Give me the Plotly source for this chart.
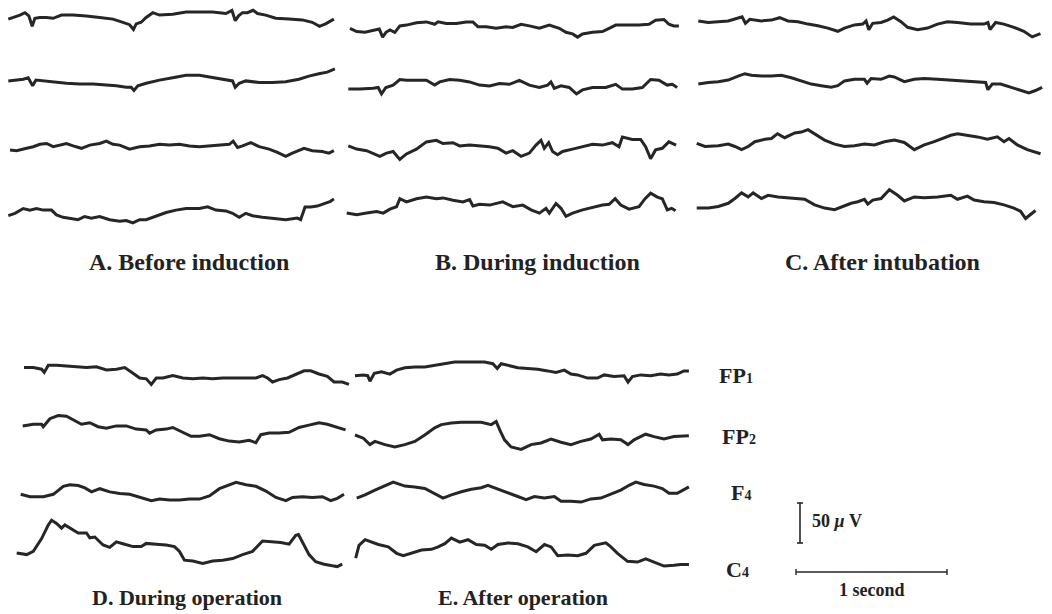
import plotly.graph_objects as go

# ---------------- data (time in ms from trace start, amplitude in microvolts) ----------------
channels = ["FP<span style='font-size:14px'>1</span>", "FP<span style='font-size:14px'>2</span>",
            "F<span style='font-size:14px'>4</span>", "C<span style='font-size:14px'>4</span>"]
panel_titles = ["A. Before induction", "B. During induction", "C. After intubation",
                "D. During operation", "E. After operation"]
scale_uv = 50
scale_s = 1

A_t = [
    [0,33,77,110,136,158,176,209,253,297,352,429,517,605,693,759,803,829,847,880,913,957,1001,1089,1177,1265,1353,1441,1481,1503,1525,1551,1584,1621,1650,1705,1771,1859,1947,2013,2061,2101,2134,2156],
    [0,44,99,132,161,183,231,297,385,473,561,649,715,781,814,832,858,913,1001,1089,1177,1265,1353,1441,1485,1503,1529,1573,1661,1749,1837,1925,1958,1991,2057,2112,2163],
    [0,44,110,154,198,242,286,330,374,418,473,528,594,638,682,726,792,858,924,990,1056,1122,1188,1254,1320,1386,1452,1478,1507,1540,1595,1650,1716,1771,1826,1870,1914,1947,2002,2068,2112,2145],
    [0,44,99,143,187,231,286,319,363,407,462,506,550,605,671,737,781,825,869,913,979,1045,1111,1177,1265,1320,1375,1441,1485,1529,1573,1617,1683,1749,1837,1914,1936,1965,2002,2046,2090,2134,2156],
]
A_v = [
    [-1,1,4,7,3,-10,0,1,1,0,4,4,3,1,-1,-5,-8,-14,-7,-5,1,7,4,5,8,8,8,6,10,-3,3,7,7,10,6,4,0,-1,-2,-5,-10,-7,-3,-1],
    [1,2,3,5,-5,2,1,0,-2,-3,-3,-4,-5,-7,-7,-11,-5,-2,2,5,8,8,5,2,1,-7,-2,1,-1,-1,0,3,5,7,10,12,16],
    [-4,-5,-2,0,3,4,0,2,4,1,-2,2,4,7,3,2,-3,0,1,3,2,3,1,0,1,2,3,7,-1,1,5,0,-3,-7,-12,-8,-5,-2,-5,-6,-8,-5],
    [-3,0,6,4,6,4,4,-2,-5,-6,-8,-4,-6,-4,-8,-10,-9,-12,-8,-8,-3,1,4,6,6,8,4,3,0,-5,0,-3,-5,-6,-8,-6,-8,8,8,9,12,15,18],
]

B_t = [
    [0,44,99,154,194,216,238,264,297,330,374,440,506,561,583,638,704,770,814,847,902,968,1034,1078,1133,1188,1254,1320,1386,1430,1474,1507,1540,1606,1672,1716,1760,1826,1914,1980,2024,2079,2112,2145,2178],
    [0,77,165,198,220,249,297,341,385,451,517,572,605,671,737,803,869,935,1001,1067,1133,1199,1265,1320,1342,1364,1408,1463,1511,1551,1617,1705,1771,1815,1881,1947,2002,2057,2112,2145,2178],
    [0,55,121,165,209,253,297,341,385,451,517,583,627,693,737,803,869,935,990,1045,1089,1144,1199,1243,1276,1298,1327,1353,1386,1419,1485,1551,1617,1683,1749,1793,1815,1881,1936,1969,2002,2035,2079,2123,2171],
    [0,66,132,198,242,286,330,352,396,462,528,594,638,704,770,814,836,880,946,1034,1100,1166,1221,1276,1320,1342,1386,1419,1452,1496,1562,1628,1694,1738,1778,1815,1870,1936,1976,2013,2057,2090,2123,2152,2178],
]
B_v = [
    [0,-4,-5,-3,-1,-11,-5,-2,-5,3,4,7,8,5,8,6,6,8,8,2,2,0,2,1,5,3,0,4,0,-5,-7,-11,-7,-5,-4,0,4,4,4,5,10,11,5,3,3],
    [-1,-1,0,1,-7,1,4,11,10,10,10,4,8,11,10,8,4,3,6,5,10,4,1,4,8,0,3,1,-7,-2,1,1,5,-1,-1,1,11,10,4,5,1],
    [1,-3,-5,-9,-12,-8,-6,-16,-9,-3,6,8,4,5,1,2,1,0,-2,-8,-5,-12,-8,2,8,-2,5,-6,-10,-6,-3,0,3,2,5,0,12,9,9,0,-15,-4,-2,6,2],
    [-8,-10,-8,-6,-8,-3,0,10,6,10,12,10,11,8,6,9,1,3,2,6,0,2,-4,-8,-2,-8,4,-2,-12,-8,-4,-1,2,3,10,2,-3,0,10,17,12,10,-4,-2,-5],
]

C_t = [
    [0,66,132,198,253,290,312,341,418,484,539,594,660,726,792,858,924,968,1034,1089,1111,1129,1155,1210,1254,1294,1342,1386,1452,1518,1584,1650,1716,1804,1892,1918,1932,1969,2024,2090,2156,2211,2266],
    [0,66,132,198,264,308,352,418,484,550,616,682,748,814,880,924,968,1034,1100,1118,1144,1210,1265,1298,1364,1430,1496,1584,1672,1760,1848,1903,1918,1947,2002,2068,2134,2189,2233,2277],
    [0,55,143,209,253,297,341,385,451,495,535,583,649,693,737,792,847,913,979,1045,1111,1177,1243,1309,1375,1441,1507,1573,1639,1683,1727,1793,1859,1925,1991,2035,2068,2123,2189,2277],
    [0,77,143,209,253,297,341,374,429,473,539,605,671,715,781,847,913,968,1023,1067,1111,1133,1166,1221,1276,1331,1375,1441,1507,1595,1683,1727,1793,1837,1903,1969,2035,2101,2145,2178,2222,2244],
]
C_v = [
    [3,1,2,3,6,8,0,5,3,4,7,3,2,-1,-3,-6,-10,-6,-2,-1,3,-8,0,1,4,8,2,-5,-8,-6,-1,2,1,-1,-1,1,-8,1,-1,-5,-10,-17,-13],
    [-3,-1,0,2,7,10,8,7,7,8,5,1,-3,-5,-7,-5,1,3,3,-2,4,3,7,6,0,3,4,3,2,1,0,-1,-10,-3,-3,-7,-11,-14,-11,-7],
    [-2,-6,-5,-3,-6,-10,-6,0,3,4,10,5,11,12,15,8,2,-3,-6,-5,-3,-4,0,2,-1,-10,-4,0,5,8,10,8,6,3,6,0,4,-4,-10,-15],
    [-6,-6,-4,0,6,13,8,13,6,10,8,7,6,5,-2,-6,-8,-4,0,2,5,-1,4,6,17,10,3,8,7,8,10,5,9,4,2,1,-2,-6,-10,-19,-12,-9],
]

D_t = [
    [0,62,117,134,161,216,282,348,414,480,546,612,667,722,766,810,843,876,920,986,1052,1118,1184,1250,1316,1404,1470,1536,1580,1613,1646,1690,1745,1800,1855,1899,1954,2009,2053,2108,2152],
    [0,70,125,136,180,235,290,345,389,444,499,554,620,686,752,818,840,884,950,994,1060,1115,1170,1236,1302,1368,1434,1500,1544,1577,1632,1698,1764,1830,1896,1962,2017,2072,2138],
    [0,62,150,216,282,326,381,425,469,524,590,656,722,788,865,920,986,1052,1118,1184,1250,1316,1382,1426,1492,1558,1624,1690,1756,1800,1866,1932,1998,2053,2097,2141],
    [0,66,110,165,209,231,264,297,319,363,407,462,484,517,572,616,660,715,770,825,858,924,990,1045,1078,1111,1166,1232,1298,1364,1430,1496,1562,1628,1694,1749,1804,1848,1866,1892,1936,1980,2035,2090,2123,2156],
]
D_v = [
    [3,3,1,-3,6,6,5,4,3,4,0,1,3,-4,-10,-11,-18,-10,-10,-7,-10,-11,-10,-11,-10,-10,-10,-10,-7,-10,-15,-12,-10,-5,-1,-1,-5,-8,-15,-15,-18],
    [1,3,3,0,10,14,13,8,3,5,0,-2,1,1,-3,-4,-8,-4,-3,-1,-7,-12,-12,-10,-15,-18,-19,-17,-20,-10,-8,-8,-7,-1,2,5,3,0,-4],
    [0,-3,-3,0,10,12,11,8,3,7,3,1,0,-4,-8,-6,-7,-7,-6,-6,-2,7,12,15,12,10,4,-4,-8,-4,-3,-4,-3,-8,-5,0],
    [-10,-12,-8,8,25,31,27,21,25,20,15,15,9,10,0,-3,4,1,-2,-2,2,1,0,-2,-8,-19,-20,-23,-20,-19,-17,-12,-8,5,4,3,1,12,13,4,-12,-21,-24,-26,-27,-24],
]

E_t = [
    [0,55,84,99,128,176,231,275,330,396,462,528,594,660,726,792,858,913,942,968,1012,1078,1144,1210,1276,1331,1386,1430,1474,1540,1606,1650,1716,1782,1808,1837,1892,1958,2024,2079,2134,2178,2211],
    [0,55,99,132,198,264,330,396,462,528,572,638,704,770,836,902,935,957,990,1034,1100,1166,1232,1298,1364,1430,1496,1562,1617,1639,1694,1760,1808,1848,1925,1980,2046,2112,2211],
    [0,55,121,187,242,319,385,451,517,572,627,693,759,825,869,935,1001,1067,1122,1177,1243,1309,1353,1419,1485,1551,1617,1683,1749,1804,1848,1903,1969,2024,2068,2123,2167,2200],
    [0,22,62,106,150,216,271,315,370,436,502,546,590,634,689,744,799,854,898,942,1008,1074,1140,1195,1250,1294,1338,1404,1470,1525,1580,1657,1690,1734,1800,1866,1921,1976,2042,2108,2152,2207],
]
E_v = [
    [-5,-4,-5,-12,-2,0,-3,2,5,6,6,8,10,12,12,12,12,10,4,10,8,5,4,3,1,-1,2,-3,-4,-8,-8,-4,-6,-5,-13,-6,-4,-5,-3,-4,-3,1,1],
    [0,-4,-12,-8,-12,-15,-12,-8,0,9,13,15,16,16,16,13,17,7,-6,-15,-18,-12,-10,-5,-9,-12,-8,-5,1,-6,-5,-6,-12,-6,1,-2,-5,-2,-1],
    [-8,-4,2,8,12,7,6,4,-2,-8,-4,0,3,5,8,3,-1,-6,-10,-6,-8,-6,-12,-12,-13,-9,-8,-3,2,8,12,9,7,4,-2,-2,3,6],
    [-8,8,15,12,9,6,-2,-5,-2,2,3,6,10,17,12,15,9,8,3,9,11,10,6,0,9,6,-5,-4,-5,-2,8,11,6,-2,-12,-13,-9,-13,-18,-17,-16,-16],
]

# ---------------- layout (page pixels) ----------------
W, H = 1052, 614
PX_PER_S = 151.0      # 1 second bar length
PX_PER_UV = 0.8       # 50 uV bar length = 40 px

def X(px):
    return px / PX_PER_S

def Y(py):
    return -py / PX_PER_UV

panels = [
    (A_t, A_v, [8.3, 8.3, 10.0, 8.3], [18.3, 81.7, 146.7, 213.3]),
    (B_t, B_v, [350.0, 348.3, 348.3, 346.7], [28.3, 88.3, 146.7, 206.7]),
    (C_t, C_v, [698.3, 698.3, 696.7, 696.7], [23.3, 81.7, 141.7, 203.3]),
    (D_t, D_v, [24.0, 22.7, 20.7, 16.7], [370.0, 426.7, 494.3, 545.0]),
    (E_t, E_v, [355.0, 355.0, 356.7, 355.7], [371.7, 435.0, 491.7, 551.7]),
]
title_pos = [(189, 262), (537, 262), (882, 262), (187, 597), (523, 597)]
title_size = [24, 24, 24, 22, 22]
label_pos = [(736, 375), (739, 436), (741, 492), (737, 569)]

INK = "#262626"
fig = go.Figure()

for times, vals, x0s, bases in panels:
    for t, v, x0, b in zip(times, vals, x0s, bases):
        fig.add_trace(go.Scatter(
            x=[X(x0) + ti / 1000.0 for ti in t],
            y=[Y(b) + vi for vi in v],
            mode="lines", line=dict(color=INK, width=3.0),
            hoverinfo="skip", showlegend=False))

# scale bars (drawn in data units)
vx, vy0 = X(800), Y(543)
cap = X(3)
fig.add_trace(go.Scatter(
    x=[vx, vx, None, vx - cap, vx + cap, None, vx - cap, vx + cap],
    y=[vy0, vy0 + scale_uv, None, vy0, vy0, None, vy0 + scale_uv, vy0 + scale_uv],
    mode="lines", line=dict(color=INK, width=1.6), hoverinfo="skip", showlegend=False))
hx0, hy = X(796), Y(572)
tick = 3 / PX_PER_UV
fig.add_trace(go.Scatter(
    x=[hx0, hx0 + scale_s, None, hx0, hx0, None, hx0 + scale_s, hx0 + scale_s],
    y=[hy, hy, None, hy - tick, hy + tick, None, hy - tick, hy + tick],
    mode="lines", line=dict(color=INK, width=1.4), hoverinfo="skip", showlegend=False))

SERIF = "Liberation Serif"
ann = []
for txt, (px, py), sz in zip(panel_titles, title_pos, title_size):
    ann.append(dict(x=X(px), y=Y(py), text=txt, showarrow=False, xanchor="center", yanchor="middle",
                    font=dict(family=SERIF, size=sz, color="#222", weight="bold")))
for txt, (px, py) in zip(channels, label_pos):
    ann.append(dict(x=X(px), y=Y(py), text=txt, showarrow=False, xanchor="center", yanchor="middle",
                    font=dict(family=SERIF, size=22, color="#222", weight="bold")))
ann.append(dict(x=X(837), y=Y(521), text="50 <i>μ</i> V", showarrow=False, xanchor="center",
                yanchor="middle", font=dict(family=SERIF, size=18, color="#222", weight="bold")))
ann.append(dict(x=X(872), y=Y(590), text="1 second", showarrow=False, xanchor="center",
                yanchor="middle", font=dict(family=SERIF, size=18, color="#222", weight="bold")))

fig.update_layout(
    width=W, height=H, margin=dict(l=0, r=0, t=0, b=0),
    paper_bgcolor="white", plot_bgcolor="white",
    xaxis=dict(range=[0, X(W)], visible=False, fixedrange=True),
    yaxis=dict(range=[Y(H), 0], visible=False, fixedrange=True),
    annotations=ann, showlegend=False,
)

fig.write_html("out.html", config={"displayModeBar": False, "staticPlot": True},
               post_script="document.body.style.margin='0';document.body.style.overflow='hidden';")
